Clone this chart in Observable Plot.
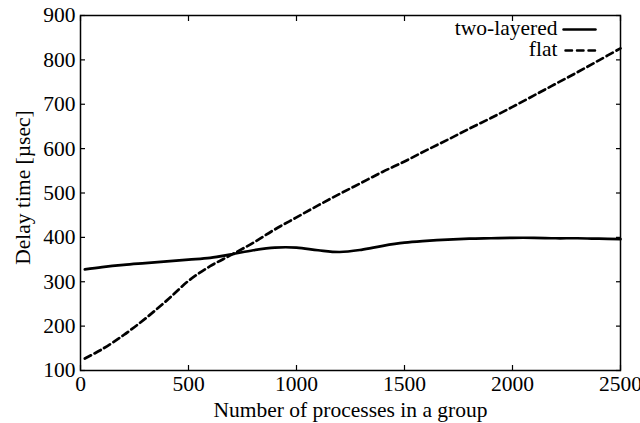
<!DOCTYPE html>
<html>
<head>
<meta charset="utf-8">
<script src="https://cdn.jsdelivr.net/npm/d3@7"></script>
<script src="https://cdn.jsdelivr.net/npm/@observablehq/plot@0.6"></script>
<style>
  html, body { margin: 0; padding: 0; background: white; }
</style>
</head>
<body>
<div id="chart"></div>
<script>
const processCounts = [20, 100, 200, 300, 400, 500, 600, 700, 800, 900, 1000, 1100, 1200, 1300, 1400, 1500, 1600, 1700, 1800, 1900, 2000, 2100, 2200, 2300, 2400, 2500];
const twoLayeredDelay = [328, 333, 338, 342, 346, 350, 354, 362, 371, 377, 377, 371, 367, 372, 381, 388, 392, 395, 397, 398, 399, 399, 398, 398, 397, 396];
const flatDelay = [127, 148, 180, 217, 258, 302, 335, 361, 388, 418, 445, 472, 498, 523, 548, 571, 596, 620, 645, 669, 694, 720, 746, 772, 799, 826];
const xTicks = [0, 500, 1000, 1500, 2000, 2500];
const yTicks = [100, 200, 300, 400, 500, 600, 700, 800, 900];
const seriesNames = ["two-layered", "flat"];
const xLabel = "Number of processes in a group";
const yLabel = "Delay time [\u00B5sec]";

const twoLayered = processCounts.map((x, i) => ({x, y: twoLayeredDelay[i]}));
const flat = processCounts.map((x, i) => ({x, y: flatDelay[i]}));

const segment = {draw(context, l) { context.moveTo(0, 0); context.lineTo(0, -l); }};
const fmt = d3.format("d");
const FONT = "Liberation Serif";
const FS = 21.5;

const chart = Plot.plot({
  width: 640,
  height: 423,
  marginLeft: 80,
  marginRight: 20,
  marginTop: 15,
  marginBottom: 53,
  x: {domain: [0, 2500]},
  y: {domain: [100, 900]},
  style: {fontFamily: FONT, fontSize: FS + "px", background: "white", color: "black", overflow: "visible"},
  marks: [
    Plot.axisX(xTicks, {anchor: "bottom", tickSize: -5, tickPadding: 10.5, tickFormat: fmt, label: null, strokeWidth: 1.2, fontFamily: FONT, fontSize: FS}),
    Plot.axisX(xTicks, {anchor: "top", tickSize: -5, tickFormat: () => "", label: null, strokeWidth: 1.2}),
    Plot.axisY(yTicks, {anchor: "left", tickSize: -5, tickPadding: 10, tickFormat: fmt, label: null, strokeWidth: 1.2, fontFamily: FONT, fontSize: FS}),
    Plot.axisY(yTicks, {anchor: "right", tickSize: -5, tickFormat: () => "", label: null, strokeWidth: 1.2}),
    Plot.text([xLabel], {frameAnchor: "bottom", dy: 40, textAnchor: "middle", lineAnchor: "middle", text: d => d, fill: "black", fontFamily: FONT, fontSize: FS}),
    Plot.text([yLabel], {frameAnchor: "left", rotate: -90, dx: -57.5, dy: -5.5, textAnchor: "middle", lineAnchor: "middle", text: d => d, fill: "black", fontFamily: FONT, fontSize: FS}),
    Plot.line(twoLayered, {x: "x", y: "y", stroke: "black", strokeWidth: 2.7, curve: "catmull-rom"}),
    Plot.line(flat, {x: "x", y: "y", stroke: "black", strokeWidth: 2.7, strokeDasharray: "7,4", curve: "catmull-rom"}),
    Plot.frame({stroke: "black", strokeWidth: 1.5}),
    Plot.text([seriesNames[0]], {frameAnchor: "top-right", dx: -63, dy: 13.1, textAnchor: "end", lineAnchor: "middle", text: d => d, fill: "black", fontFamily: FONT, fontSize: FS}),
    Plot.text([seriesNames[1]], {frameAnchor: "top-right", dx: -63, dy: 33.6, textAnchor: "end", lineAnchor: "middle", text: d => d, fill: "black", fontFamily: FONT, fontSize: FS}),
    Plot.vector([seriesNames[0]], {frameAnchor: "top-right", dx: -57, dy: 14, rotate: 90, length: 32, anchor: "start", shape: segment, stroke: "black", strokeWidth: 2.5}),
    Plot.vector([seriesNames[1]], {frameAnchor: "top-right", dx: -55, dy: 35, rotate: 90, length: 30, anchor: "start", shape: segment, stroke: "black", strokeWidth: 2.5, strokeDasharray: "6.5,5"})
  ]
});
document.getElementById("chart").appendChild(chart);
</script>
</body>
</html>
